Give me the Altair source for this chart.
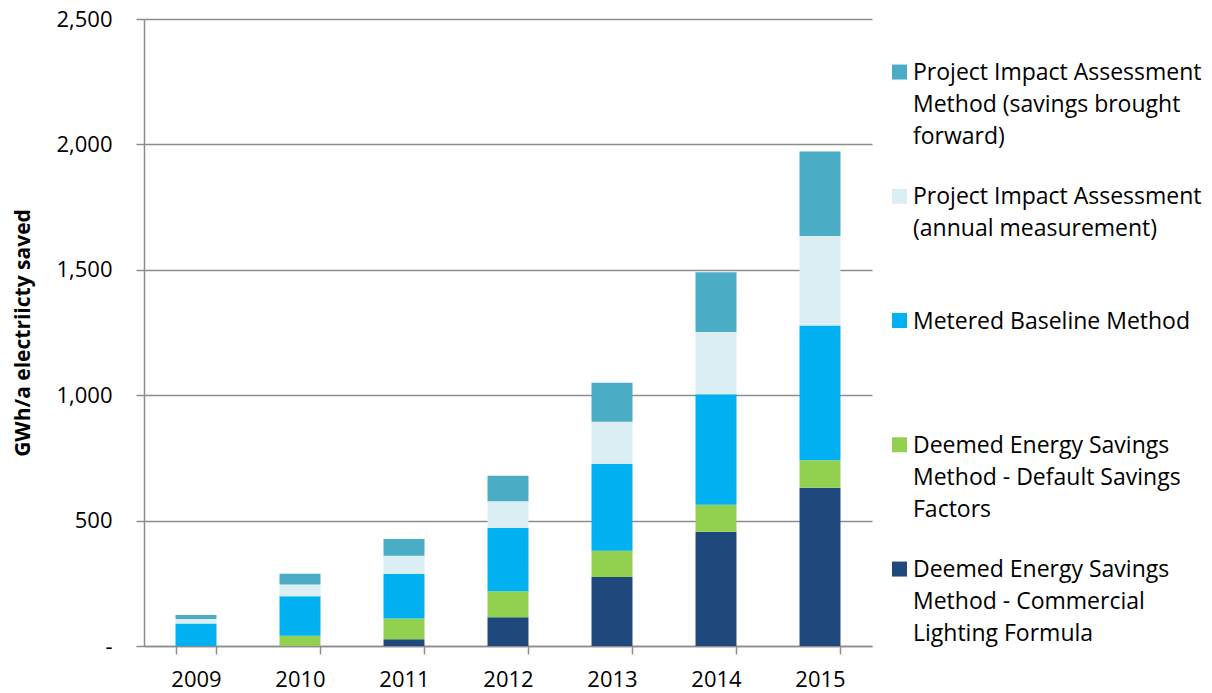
import altair as alt
import pandas as pd

years = ["2009", "2010", "2011", "2012", "2013", "2014", "2015"]
series = [
    "Deemed Energy Savings Method - Commercial Lighting Formula",
    "Deemed Energy Savings Method - Default Savings Factors",
    "Metered Baseline Method",
    "Project Impact Assessment (annual measurement)",
    "Project Impact Assessment Method (savings brought forward)",
]
legend_labels = [
    "Deemed Energy Savings\nMethod - Commercial\nLighting Formula",
    "Deemed Energy Savings\nMethod - Default Savings\nFactors",
    "Metered Baseline Method",
    "Project Impact Assessment\n(annual measurement)",
    "Project Impact Assessment\nMethod (savings brought\nforward)",
]
colors = ["#1F497D", "#92D050", "#00B0F0", "#DAEEF3", "#4BACC6"]

clf = [0, 0, 27, 115, 275, 456, 631]
dsf = [0, 41, 83, 103, 105, 107, 110]
mbm = [90, 157, 177, 252, 347, 441, 537]
pia_annual = [18, 47, 73, 107, 167, 248, 357]
pia_bf = [16, 43, 67, 102, 156, 238, 337]

y_ticks = [0, 500, 1000, 1500, 2000, 2500]
y_title = "GWh/a electriicty saved"

values = [clf, dsf, mbm, pia_annual, pia_bf]
rows = []
for i, (s, vals) in enumerate(zip(series, values)):
    for yr, v in zip(years, vals):
        rows.append({"year": yr, "series": s, "order": i, "value": v})
df = pd.DataFrame(rows)
leg = pd.DataFrame({"series": series, "label": legend_labels, "order": list(range(len(series)))})

GRAY = "#8c8c8c"
color_scale = alt.Scale(domain=series, range=colors)

bars = alt.Chart(df).mark_bar().encode(
    x=alt.X(
        "year:N",
        sort=years,
        title=None,
        scale=alt.Scale(paddingInner=0.606, paddingOuter=0.303),
        axis=alt.Axis(
            tickBand="extent", labelAngle=0, labelPadding=15, tickSize=8,
            tickColor=GRAY, tickWidth=1.5, domainColor=GRAY, domainWidth=1.5,
            grid=False, labelFontSize=22, labelColor="black", labelFont="Open Sans",
        ),
    ),
    y=alt.Y(
        "value:Q",
        stack="zero",
        scale=alt.Scale(domain=[0, 2500], nice=False),
        axis=alt.Axis(
            values=y_ticks,
            labelExpr="datum.value == 0 ? '-\u00a0\u00a0' : format(datum.value, ',')",
            title=y_title, titleFontSize=21, titleFontWeight="bold", titleColor="black",
            titleFont="Open Sans", titlePadding=22,
            labelFontSize=22, labelColor="black", labelFont="Open Sans", labelPadding=24,
            tickSize=8, tickColor=GRAY, tickWidth=1.5, domainColor=GRAY, domainWidth=1.5,
            grid=True, gridColor=GRAY, gridWidth=1.5,
        ),
    ),
    color=alt.Color("series:N", scale=color_scale, legend=None),
    order=alt.Order("order:Q"),
)

ly = alt.Y(
    "series:N",
    sort=list(reversed(series)),
    scale=alt.Scale(type="point", padding=0.523, align=0.408),
    axis=None,
)

squares = alt.Chart(leg).mark_point(
    shape="square", filled=True, size=225, opacity=1, x="width", xOffset=27.5
).encode(
    y=ly,
    color=alt.Color("series:N", scale=color_scale, legend=None),
)

texts = alt.Chart(leg).mark_text(
    x="width", dx=41, dy=8, align="left", baseline="alphabetic",
    lineBreak="\n", lineHeight=32, fontSize=23, font="Open Sans", color="black",
).encode(
    y=ly,
    text="label:N",
)

chart = (
    alt.layer(bars, squares, texts)
    .resolve_scale(y="independent")
    .properties(width=728, height=627, padding={"left": 4, "top": 0, "right": 0, "bottom": 0})
    .configure_view(stroke=None)
)

chart.save("out.html", embed_options={"renderer": "svg", "actions": False})
